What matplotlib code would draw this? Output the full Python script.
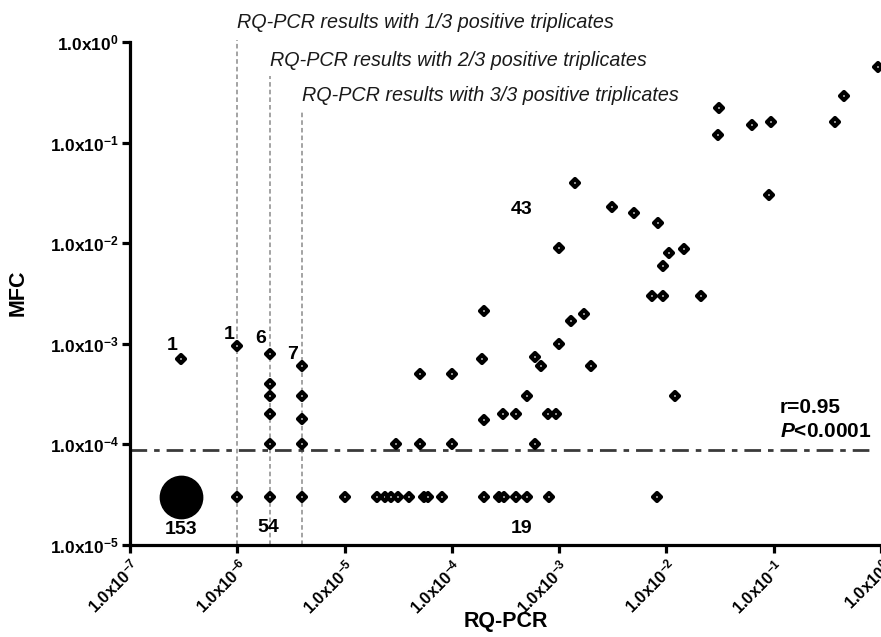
import matplotlib
matplotlib.use("Agg")
import matplotlib.pyplot as plt
from matplotlib.markers import MarkerStyle
from matplotlib.ticker import FixedLocator, NullLocator

plt.rcParams['font.family'] = ['Liberation Sans', 'DejaVu Sans']
plt.rcParams['mathtext.fontset'] = 'custom'
plt.rcParams['mathtext.rm'] = 'Liberation Sans'
plt.rcParams['mathtext.bf'] = 'Liberation Sans:bold'
plt.rcParams['mathtext.it'] = 'Liberation Sans:bold:italic'
plt.rcParams['mathtext.default'] = 'bf'

# --- data ---
# samples with 1/3, 2/3, 3/3 positive triplicates (RQ-PCR fixed at detection limits)
col_1_3_x = [3e-7, 1e-6, 1e-6]
col_1_3_y = [7e-4, 9.5e-4, 3e-5]
col_2_3_x = [2e-6, 2e-6, 2e-6, 2e-6, 2e-6, 2e-6]
col_2_3_y = [8e-4, 4e-4, 3e-4, 2e-4, 1e-4, 3e-5]
col_3_3_x = [4e-6, 4e-6, 4e-6, 4e-6, 4e-6]
col_3_3_y = [6e-4, 3e-4, 1.8e-4, 1e-4, 3e-5]

# quantifiable RQ-PCR, MFC above detection
rq_pcr = [0.45, 0.031, 0.030, 0.063, 0.095, 0.37, 0.0014, 0.0031, 0.005, 0.0083,
          0.09, 0.001, 0.0105, 0.0147, 0.0093, 0.0073, 0.0093, 0.021, 0.0002, 0.0013,
          0.0017, 0.001, 0.0006, 0.00068, 0.002, 0.00019, 5e-5, 1e-4, 0.0005, 0.0002,
          0.0003, 0.0004, 0.00079, 0.00093, 0.012, 3e-5, 5e-5, 1e-4, 0.0006, 0.93]
mfc = [0.29, 0.22, 0.12, 0.15, 0.16, 0.16, 0.04, 0.023, 0.02, 0.016,
       0.03, 0.009, 0.008, 0.0088, 0.006, 0.003, 0.003, 0.003, 0.0021, 0.0017,
       0.002, 0.001, 0.00074, 0.0006, 0.0006, 0.0007, 0.0005, 0.0005, 0.0003, 0.000175,
       0.0002, 0.0002, 0.0002, 0.0002, 0.0003, 1e-4, 1e-4, 1e-4, 1e-4, 0.56]

# quantifiable RQ-PCR, MFC negative (plotted at 3x10^-5)
rq_neg = [1e-5, 2e-5, 2.4e-5, 2.7e-5, 3.15e-5, 4e-5, 5.5e-5, 6e-5, 8.1e-5,
          2e-4, 2.75e-4, 3.06e-4, 4e-4, 5e-4, 8e-4, 8.1e-3]
mfc_neg = [3e-5] * len(rq_neg)

# double negative cluster
cluster_x, cluster_y, cluster_n = 3e-7, 3e-5, 153

mfc_cutoff = 8.8e-5
triplicate_lines = [1e-6, 2e-6, 4e-6]
triplicate_tops = [1.05, 0.46, 0.21]
triplicate_text = ['RQ-PCR results with 1/3 positive triplicates',
                   'RQ-PCR results with 2/3 positive triplicates',
                   'RQ-PCR results with 3/3 positive triplicates']
triplicate_text_y = [1.58, 0.66, 0.297]

counts = ['1', '1', '6', '7', '153', '54', '19', '43']
count_x = [2.46e-7, 8.4e-7, 1.66e-6, 3.3e-6, 3e-7, 1.93e-6, 4.5e-4, 4.5e-4]
count_y = [9.7e-4, 1.25e-3, 1.12e-3, 7.9e-4, 1.41e-5, 1.48e-5, 1.46e-5, 0.0214]

x_ticks = [1e-7, 1e-6, 1e-5, 1e-4, 1e-3, 1e-2, 1e-1, 1e0]
x_labels = [r'$1.0x10^{-7}$', r'$1.0x10^{-6}$', r'$1.0x10^{-5}$', r'$1.0x10^{-4}$',
            r'$1.0x10^{-3}$', r'$1.0x10^{-2}$', r'$1.0x10^{-1}$', r'$1.0x10^{0}$']
y_ticks = [1e-5, 1e-4, 1e-3, 1e-2, 1e-1, 1e0]
y_labels = [r'$1.0x10^{-5}$', r'$1.0x10^{-4}$', r'$1.0x10^{-3}$',
            r'$1.0x10^{-2}$', r'$1.0x10^{-1}$', r'$1.0x10^{0}$']

# --- plot ---
fig = plt.figure(figsize=(8.81, 6.37), dpi=100)
ax = fig.add_axes([130 / 881, 92 / 637, 751 / 881, 503 / 637])
ax.set_xscale('log')
ax.set_yscale('log')
ax.set_xlim(1e-7, 1e0)
ax.set_ylim(1e-5, 1e0)

for xv, top in zip(triplicate_lines, triplicate_tops):
    ax.plot([xv, xv], [1e-5, top], color='#8a8a8a', lw=1.1, ls=(0, (3, 2)),
            clip_on=False, zorder=1)
for xv, yv, t in zip(triplicate_lines, triplicate_text_y, triplicate_text):
    ax.text(xv, yv, t, fontsize=14.2, style='italic', color='#1a1a1a',
            ha='left', va='center', clip_on=False)

ax.plot([1e-7, 0.79], [mfc_cutoff, mfc_cutoff], color='#3a3a3a', lw=2,
        ls=(0, (6, 2.5, 2, 2.5)), zorder=1)

mk = MarkerStyle('D', joinstyle='round')
style = dict(ls='none', marker=mk, ms=3.8, mfc='white', mec='black', mew=3.0,
             zorder=3, clip_on=False)
ax.plot(col_1_3_x, col_1_3_y, **style)
ax.plot(col_2_3_x, col_2_3_y, **style)
ax.plot(col_3_3_x, col_3_3_y, **style)
ax.plot(rq_pcr, mfc, **style)
ax.plot(rq_neg, mfc_neg, **style)
ax.plot([cluster_x], [cluster_y], ls='none', marker='o', ms=30.5, color='black', zorder=3)

for t, xv, yv in zip(counts, count_x, count_y):
    ax.text(xv, yv, t, fontsize=14, fontweight='bold', ha='center', va='center')

ax.text(0.114, 2.35e-4, 'r=0.95', fontsize=15, fontweight='bold', ha='left', va='center')
ax.text(0.114, 1.33e-4, r'$\mathit{P}$<0.0001', fontsize=15, fontweight='bold',
        ha='left', va='center')

for side in ['top', 'right']:
    ax.spines[side].set_visible(False)
for side in ['left', 'bottom']:
    ax.spines[side].set_linewidth(2.3)

ax.xaxis.set_major_locator(FixedLocator(x_ticks))
ax.xaxis.set_minor_locator(NullLocator())
ax.yaxis.set_major_locator(FixedLocator(y_ticks))
ax.yaxis.set_minor_locator(NullLocator())
ax.set_xticklabels(x_labels, fontsize=12, rotation=45, ha='right', va='top',
                   rotation_mode='anchor')
ax.set_yticklabels(y_labels, fontsize=12.5)
ax.tick_params(axis='both', width=2.3, length=6, pad=2, direction='out')

fig.text(18 / 881, 1 - 293 / 637, 'MFC', rotation=90, fontsize=15.5, fontweight='bold',
         ha='center', va='center')
fig.text(506 / 881, 1 - 622 / 637, 'RQ-PCR', fontsize=15.5, fontweight='bold',
         ha='center', va='center')

fig.savefig('out.png', dpi=100)
